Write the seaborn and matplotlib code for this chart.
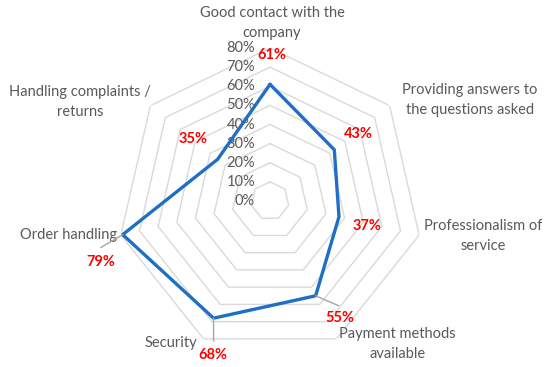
import numpy as np
import matplotlib
matplotlib.use("Agg")
import matplotlib.pyplot as plt
import seaborn as sns

categories = ["Good contact with the\ncompany", "Providing answers to\nthe questions asked",
              "Professionalism of\nservice", "Payment methods\navailable", "Security",
              "Order handling", "Handling complaints /\nreturns"]
values = [61, 43, 37, 55, 68, 79, 35]
ring_ticks = [0, 10, 20, 30, 40, 50, 60, 70, 80]

sns.set_theme(style="white")
plt.rcParams['font.family'] = ['Lato', 'DejaVu Sans']

grey = '#595959'
n = len(categories)
theta = np.linspace(0, 2 * np.pi, n, endpoint=False)
theta_c = np.append(theta, theta[0] + 2 * np.pi)
r = np.array(values) / 100
r_c = np.append(r, r[0])

fig = plt.figure(figsize=(5.5, 3.67), dpi=100)
ax = fig.add_axes([0.2127, 0.0354, 0.5564, 0.8338], projection='polar')
ax.set_theta_zero_location('N')
ax.set_theta_direction(-1)
ax.set_ylim(0, 0.8)
ax.grid(False)
ax.spines['polar'].set_visible(False)
ax.set_xticks([])
ax.set_yticks([])
ax.patch.set_alpha(0)

# heptagon grid
for t in ring_ticks[1:]:
    ax.plot(theta_c, [t / 100] * len(theta_c), color='#d9d9d9', lw=1, zorder=1)
for t in ring_ticks:
    ax.annotate(f"{t}%", xy=(0, t / 100), xytext=(-15, 0), textcoords='offset pixels',
                ha='right', va='center', fontsize=10.5, color=grey)

sns.lineplot(x=theta_c, y=r_c, sort=False, ax=ax, color='#1f6fc6', lw=2.4,
             solid_joinstyle='round', zorder=3)

# category labels
cat_off = [(2, 25, 'center'), (80, 6, 'center'), (64, -1, 'center'), (61, -5, 'center'),
           (-6, -4, 'right'), (-4, 0, 'right'), (-70, 4, 'center')]
for th, lab, (dx, dy, ha) in zip(theta, categories, cat_off):
    ax.annotate(lab, xy=(th, 0.8), xytext=(dx, dy), textcoords='offset pixels',
                ha=ha, va='center', fontsize=10.5, color=grey, linespacing=1.55,
                annotation_clip=False)

# value labels
val_off = [(2, 29), (24, 16), (28, -9), (24, -22), (-1, -37), (-22, -27), (-25, 20)]
leaders = {3: (23, -10), 4: (0, -23), 5: (-22, -13)}
for i, (th, v, (dx, dy)) in enumerate(zip(theta, values, val_off)):
    if i in leaders:
        ax.annotate('', xy=(th, v / 100), xytext=leaders[i], textcoords='offset pixels',
                    arrowprops=dict(arrowstyle='-', color='#a6a6a6', lw=1,
                                    shrinkA=0, shrinkB=0), annotation_clip=False)
    ax.annotate(f"{v}%", xy=(th, v / 100), xytext=(dx, dy), textcoords='offset pixels',
                ha='center', va='center', fontsize=10.5, color='#ff0000',
                fontweight='bold', annotation_clip=False)

fig.savefig('out.png', dpi=100)
